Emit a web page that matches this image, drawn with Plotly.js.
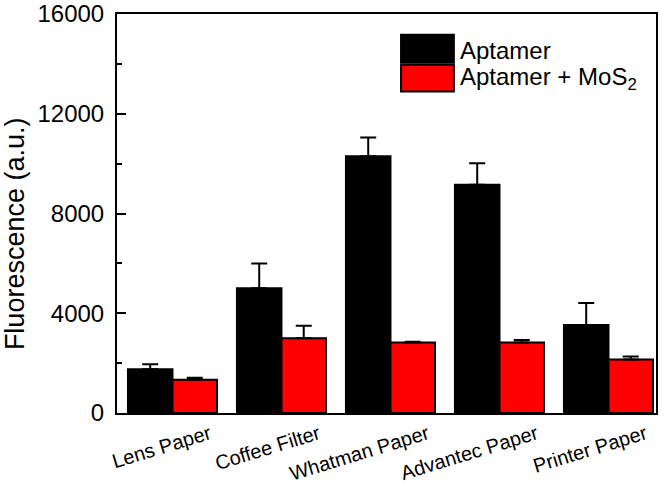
<!DOCTYPE html>
<html>
<head>
<meta charset="utf-8">
<script src="https://cdn.plot.ly/plotly-3.0.1.min.js"></script>
<style>html,body{margin:0;padding:0;background:#fff;}#chart{width:666px;height:487px;}</style>
</head>
<body>
<div id="chart"></div>
<script>
const categories = ["Lens Paper", "Coffee Filter", "Whatman Paper", "Advantec Paper", "Printer Paper"];
const seriesNames = ["Aptamer", "Aptamer + MoS<sub>2</sub>"];
const aptamer = [1750, 5000, 10300, 9150, 3530];
const aptamerErr = [200, 1000, 750, 870, 880];
const aptamerMoS2 = [1330, 3000, 2830, 2830, 2150];
const aptamerMoS2Err = [80, 500, 30, 100, 120];
const yTicks = [0, 4000, 8000, 12000, 16000];

const FONT = "Arial, 'Liberation Sans', sans-serif";
const xIdx = categories.map((c, i) => i);
const zeros = categories.map(() => 0);

function barTrace(name, vals, errs, color) {
  return {
    type: "bar", name: name, x: xIdx, y: vals,
    marker: {color: color, line: {color: "#000", width: 2}},
    error_y: {type: "data", array: errs, arrayminus: zeros, symmetric: false,
              color: "#000", thickness: 2, width: 8},
    showlegend: false,
    hovertext: categories
  };
}

const data = [
  barTrace(seriesNames[0], aptamer, aptamerErr, "#000000"),
  barTrace(seriesNames[1], aptamerMoS2, aptamerMoS2Err, "#ff0000")
];

const layout = {
  width: 666, height: 487,
  margin: {l: 117, r: 10, t: 14, b: 74},
  paper_bgcolor: "#fff", plot_bgcolor: "#fff",
  font: {family: FONT, color: "#000"},
  barmode: "group", bargap: 0.183, bargroupgap: 0,
  xaxis: {
    type: "linear", range: [-0.509, 4.436],
    tickvals: xIdx.map(i => i + 0.34), ticktext: categories,
    tickangle: -17, ticks: "", showgrid: false, zeroline: false,
    showline: true, linecolor: "#000", linewidth: 2, mirror: true,
    tickfont: {size: 20, family: FONT, color: "#000"}
  },
  yaxis: {
    range: [0, 16000], tickvals: yTicks, ticktext: yTicks.map(String),
    ticks: "inside", ticklen: 9, tickwidth: 2, tickcolor: "#000",
    minor: {dtick: 2000, ticks: "inside", ticklen: 5, tickwidth: 2, tickcolor: "#000", showgrid: false},
    showgrid: false, zeroline: false,
    showline: true, linecolor: "#000", linewidth: 2, mirror: true,
    tickfont: {size: 24, family: FONT, color: "#000"},
    ticklabelstandoff: 6, ticklabeloverflow: "allow"
  },
  shapes: [
    {type: "rect", xref: "paper", yref: "paper", x0: 0.527, x1: 0.625, y0: 0.878, y1: 0.948,
     fillcolor: "#000", line: {color: "#000", width: 2}},
    {type: "rect", xref: "paper", yref: "paper", x0: 0.527, x1: 0.625, y0: 0.806, y1: 0.873,
     fillcolor: "#ff0000", line: {color: "#000", width: 2}}
  ],
  annotations: [
    {text: "Fluorescence (a.u.)", xref: "paper", yref: "paper", x: -0.188, y: 0.45,
     xanchor: "center", yanchor: "middle", textangle: -90, showarrow: false,
     font: {size: 27, family: FONT, color: "#000"}},
    {text: seriesNames[0], xref: "paper", yref: "paper", x: 0.633, y: 0.908,
     xanchor: "left", yanchor: "middle", showarrow: false,
     font: {size: 24, family: FONT, color: "#000"}},
    {text: seriesNames[1], xref: "paper", yref: "paper", x: 0.633, y: 0.838,
     xanchor: "left", yanchor: "middle", showarrow: false,
     font: {size: 24, family: FONT, color: "#000"}}
  ]
};

Plotly.newPlot("chart", data, layout, {displayModeBar: false, staticPlot: true});
</script>
</body>
</html>
